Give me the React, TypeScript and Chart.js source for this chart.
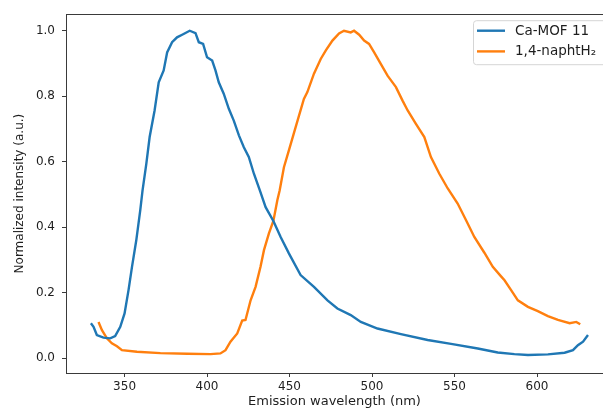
import React, { useEffect, useRef } from "react";
import { Chart, registerables } from "chart.js";

Chart.register(...registerables);

const seriesNames = ["Ca-MOF 11", "1,4-naphtH₂"];
const seriesColors = ["#1f77b4", "#ff7f0e"];

const caMofWavelength = [
  329.6, 331.2, 333.2, 337.2, 341.3, 344.3, 347.4, 350, 352.4, 354.5, 357.1, 359.5, 360.9, 363.2, 365.2,
  368.2, 370.7, 373.7, 375.8, 378.8, 381.8, 384.9, 389.5, 393, 395, 397.6, 400, 403.1, 405.1, 407.1, 410.1,
  413.2, 416.2, 419.3, 422.3, 425.3, 428.4, 432, 435.5, 440.2, 444.6, 449.6, 456.7, 464.8, 473, 479, 487.1,
  493.2, 503.3, 517.5, 533.7, 547.9, 564.1, 576.2, 586.3, 594.5, 606.6, 616.7, 621.8, 624.8, 627.9, 630.9,
];
const caMofIntensity = [
  0.107, 0.096, 0.071, 0.063, 0.061, 0.068, 0.096, 0.137, 0.208, 0.279, 0.36, 0.451, 0.512, 0.594, 0.675,
  0.756, 0.842, 0.878, 0.933, 0.964, 0.979, 0.987, 0.999, 0.992, 0.964, 0.959, 0.918, 0.908, 0.878, 0.842,
  0.807, 0.761, 0.725, 0.68, 0.644, 0.614, 0.563, 0.512, 0.461, 0.419, 0.37, 0.32, 0.254, 0.218, 0.177,
  0.152, 0.132, 0.111, 0.091, 0.074, 0.056, 0.044, 0.03, 0.018, 0.013, 0.01, 0.012, 0.017, 0.025, 0.04,
  0.051, 0.071,
];

const naphtWavelength = [
  334.2, 336.3, 339.3, 342.3, 345.4, 348.4, 357.5, 371.7, 387.9, 402.1, 408.1, 411.2, 414.2, 418.3, 421.3,
  423.3, 426.4, 429.4, 432.4, 434.5, 437.5, 440.2, 442.6, 444, 446.6, 449.6, 453.7, 458.7, 460.8, 464.8,
  468.9, 472, 476, 480, 483, 487.1, 489.1, 492.2, 495.2, 498.2, 501.3, 505.3, 509.4, 514.5, 518.5, 521.6,
  526.6, 531.7, 535.7, 540.8, 545.9, 551.9, 557, 562, 568.1, 573.2, 578.2, 580.3, 584.3, 588.4, 594.5,
  600.5, 606.6, 612.7, 619.8, 623.8, 626.2,
];
const naphtIntensity = [
  0.111, 0.086, 0.061, 0.046, 0.037, 0.025, 0.02, 0.016, 0.014, 0.013, 0.015, 0.025, 0.051, 0.076, 0.115,
  0.117, 0.177, 0.218, 0.279, 0.33, 0.381, 0.419, 0.482, 0.512, 0.583, 0.634, 0.705, 0.791, 0.812, 0.868,
  0.913, 0.939, 0.969, 0.991, 0.999, 0.994, 0.999, 0.987, 0.969, 0.959, 0.933, 0.898, 0.862, 0.827, 0.786,
  0.756, 0.715, 0.675, 0.614, 0.563, 0.518, 0.472, 0.421, 0.37, 0.322, 0.279, 0.25, 0.238, 0.208, 0.177,
  0.157, 0.144, 0.129, 0.117, 0.107, 0.111, 0.104,
];

const xTickValues = [350, 400, 450, 500, 550, 600];
const yTickValues = [0.0, 0.2, 0.4, 0.6, 0.8, 1.0];
const xTitle = "Emission wavelength (nm)";
const yTitle = "Normalized intensity (a.u.)";

const FONT = "'DejaVu Sans', sans-serif";
const TEXT = "#1e1e1e";

const frameAndLegend = {
  id: "frameAndLegend",
  afterDatasetsDraw(chart: any) {
    const { ctx, chartArea: a } = chart;
    ctx.save();
    ctx.strokeStyle = "#3a3a3a";
    ctx.lineWidth = 1;
    ctx.strokeRect(
      Math.round(a.left) + 0.5,
      Math.round(a.top) + 0.5,
      Math.round(a.right - a.left),
      Math.round(a.bottom - a.top)
    );

    // legend box (upper right, inside axes)
    const boxLeft = a.right - 130;
    const boxTop = a.top + 6;
    const boxW = 134;
    const boxH = 44;
    ctx.beginPath();
    ctx.roundRect(boxLeft + 0.5, boxTop + 0.5, boxW, boxH, 3);
    ctx.fillStyle = "rgba(255,255,255,0.8)";
    ctx.fill();
    ctx.strokeStyle = "#d5d5d5";
    ctx.stroke();

    ctx.font = `13.5px ${FONT}`;
    ctx.textBaseline = "middle";
    ctx.textAlign = "left";
    chart.data.datasets.forEach((ds: any, i: number) => {
      const y = boxTop + 10.5 + i * 20.7;
      ctx.beginPath();
      ctx.strokeStyle = ds.borderColor;
      ctx.lineWidth = 2.4;
      ctx.moveTo(boxLeft + 4, y);
      ctx.lineTo(boxLeft + 32, y);
      ctx.stroke();
      ctx.fillStyle = TEXT;
      ctx.fillText(ds.label, boxLeft + 42, y + 0.5);
    });
    ctx.restore();
  },
};

export default function App() {
  const canvasRef = useRef<HTMLCanvasElement | null>(null);

  useEffect(() => {
    if (!canvasRef.current) return;
    const toPoints = (xs: number[], ys: number[]) => xs.map((x, i) => ({ x, y: ys[i] }));
    const chart = new Chart(canvasRef.current, {
      type: "line",
      data: {
        datasets: [
          {
            label: seriesNames[0],
            data: toPoints(caMofWavelength, caMofIntensity),
            borderColor: seriesColors[0],
            backgroundColor: seriesColors[0],
            borderWidth: 2.4,
            pointRadius: 0,
            tension: 0,
          },
          {
            label: seriesNames[1],
            data: toPoints(naphtWavelength, naphtIntensity),
            borderColor: seriesColors[1],
            backgroundColor: seriesColors[1],
            borderWidth: 2.4,
            pointRadius: 0,
            tension: 0,
          },
        ],
      },
      options: {
        animation: false,
        responsive: false,
        devicePixelRatio: 1,
        layout: { padding: { top: 13, right: 0, left: 0, bottom: 0 } },
        plugins: { legend: { display: false }, tooltip: { enabled: false } },
        scales: {
          x: {
            type: "linear",
            min: 314.5,
            max: 640,
            afterFit: (s: any) => {
              s.height = 39;
            },
            afterBuildTicks: (s: any) => {
              s.ticks = xTickValues.map((v) => ({ value: v }));
            },
            border: { display: false },
            grid: {
              display: true,
              drawOnChartArea: false,
              drawTicks: true,
              tickLength: 4,
              tickColor: "#3a3a3a",
            },
            ticks: {
              color: TEXT,
              font: { family: FONT, size: 12 },
              padding: 3,
              maxRotation: 0,
              autoSkip: false,
              callback: (v: any) => String(v),
            },
            title: {
              display: true,
              text: xTitle,
              color: TEXT,
              font: { family: FONT, size: 13 },
              padding: { top: 0, bottom: 2.5 },
            },
          },
          y: {
            type: "linear",
            min: -0.0447,
            max: 1.0495,
            afterFit: (s: any) => {
              s.width = 66;
            },
            afterBuildTicks: (s: any) => {
              s.ticks = yTickValues.map((v) => ({ value: v }));
            },
            border: { display: false },
            grid: {
              display: true,
              drawOnChartArea: false,
              drawTicks: true,
              tickLength: 4,
              tickColor: "#3a3a3a",
            },
            ticks: {
              color: TEXT,
              font: { family: FONT, size: 12 },
              padding: 7,
              autoSkip: false,
              callback: (v: any) => Number(v).toFixed(1),
            },
            title: {
              display: true,
              text: yTitle,
              color: TEXT,
              font: { family: FONT, size: 12 },
              padding: { top: 13, bottom: 0 },
            },
          },
        },
      },
      plugins: [frameAndLegend],
    });
    return () => chart.destroy();
  }, []);

  return (
    <canvas
      ref={canvasRef}
      width={603}
      height={412}
      style={{ position: "absolute", left: 0, top: 0, display: "block", background: "#fff" }}
    />
  );
}
